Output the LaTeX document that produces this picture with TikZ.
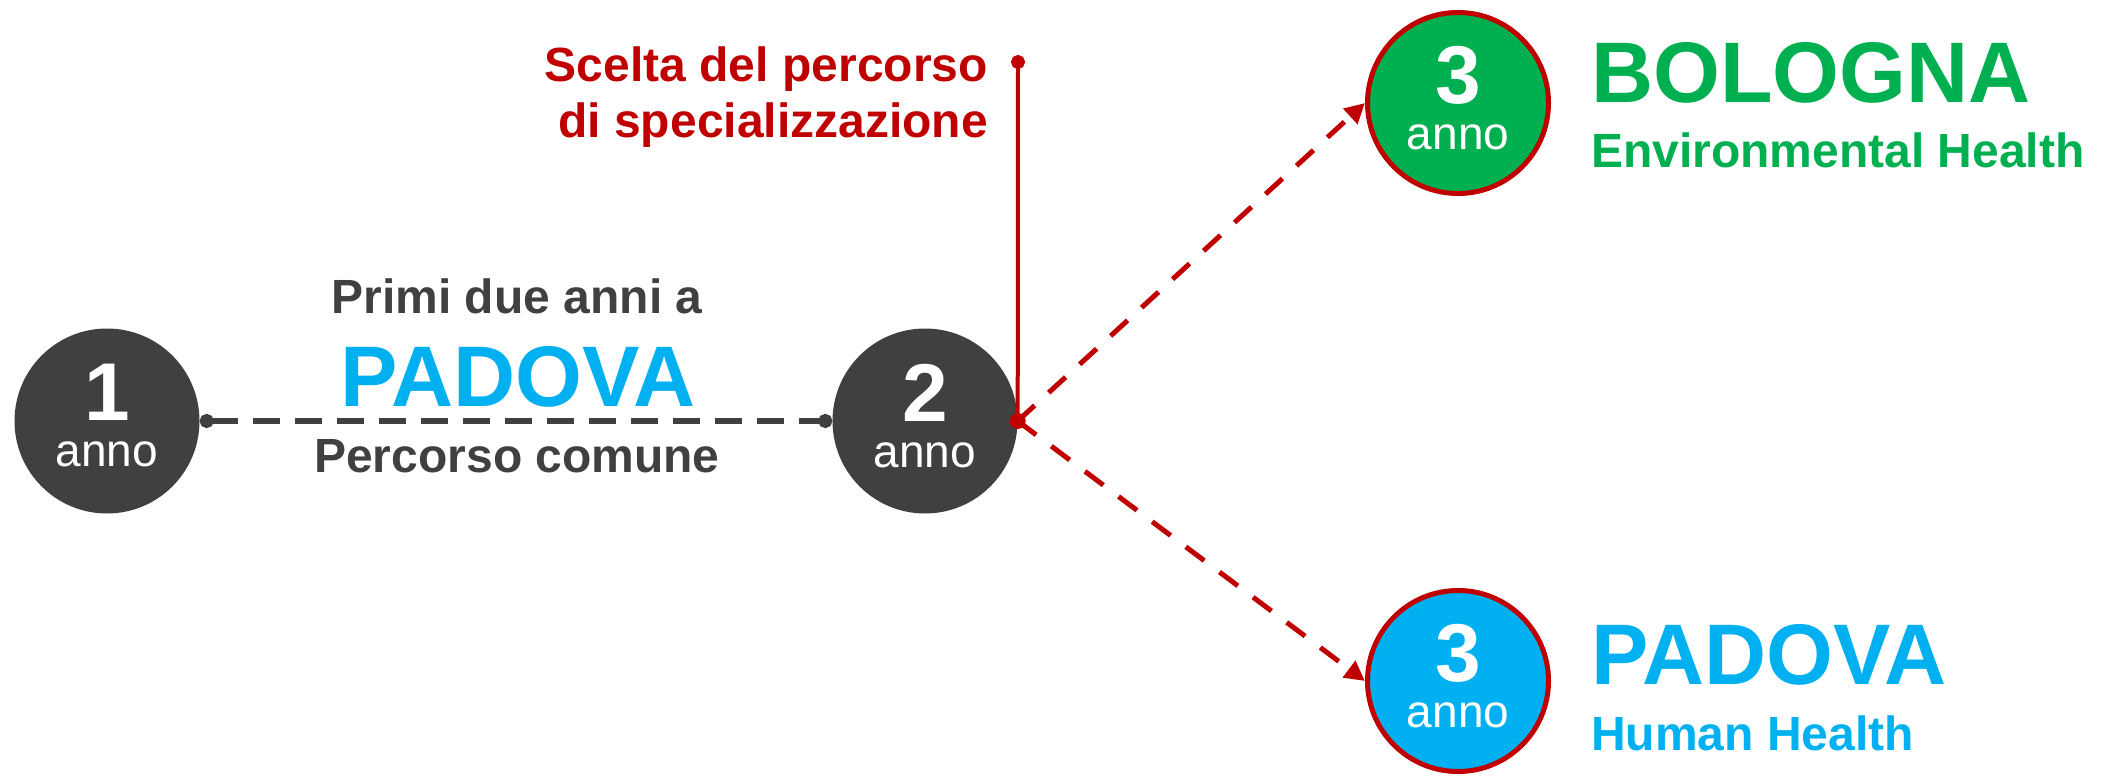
\documentclass[tikz,border=0pt]{standalone}
\usepackage{fontspec}
\setmainfont{Liberation Sans}
\usetikzlibrary{arrows.meta}
\definecolor{dgray}{HTML}{404040}
\definecolor{lblue}{HTML}{00B0F0}
\definecolor{lgreen}{HTML}{00B050}
\definecolor{dred}{HTML}{C00000}
\newcommand{\yrtext}[1]{{\bfseries\fontsize{82}{46}\selectfont #1}\\anno}
\tikzset{
  graycirc/.style={circle, fill=dgray, minimum size=185pt, inner sep=0pt},
  yearcirc/.style={circle, draw=dred, line width=5pt, minimum size=181pt, inner sep=0pt},
  circtxt/.style={font=\fontsize{46}{46}\selectfont, text=white, align=center, anchor=center, inner sep=0pt},
  bigtxt/.style={font=\bfseries\fontsize{86}{95}\selectfont, inner sep=0pt},
  midtxt/.style={font=\bfseries\fontsize{48}{56}\selectfont, inner sep=0pt},
  grayline/.style={draw=dgray, line width=6pt, dash pattern=on 27pt off 15pt},
  redarrow/.style={draw=dred, line width=5pt, dash pattern=on 23pt off 19pt, -{Triangle[length=20pt,width=20pt]}},
}
\begin{document}
\begin{tikzpicture}[x=1pt,y=-1pt]
\useasboundingbox (0,0) rectangle (2101,778);
% circles
\node[graycirc] (c1) at (107,421) {};
\node[graycirc] (c2) at (925,421) {};
\node[yearcirc, fill=lgreen] (c3t) at (1458,103) {};
\node[yearcirc, fill=lblue] (c3b) at (1458,681) {};
% labels in circles
\node[circtxt] (n1) at (107,416) {\yrtext{1}};
\node[circtxt] (n2) at (925,416) {\yrtext{2}};
\node[circtxt] (n3t) at (1458,98) {\yrtext{3}};
\node[circtxt] (n3b) at (1458,676) {\yrtext{3}};
% gray dashed connector
\draw[grayline, {Circle[length=14pt]}-{Circle[length=14pt]}] (c1.east) -- (c2.west);
% junction and red lines
\node[circle, fill=dred, minimum size=16pt, inner sep=0pt] (j) at (c2.east) {};
\coordinate (top) at (1018,55);
\draw[draw=dred, line width=4pt, {Circle[length=14pt]}-] (top) -- (j.center);
\draw[redarrow] (j.center) -- (c3t.west);
\draw[redarrow] (j.center) -- (c3b.west);
% texts
\node[midtxt, text=dgray, anchor=base] (t1) at (517,313) {Primi due anni a};
\node[bigtxt, text=lblue, anchor=base] (t2) at (518,406) {PADOVA};
\node[midtxt, text=dgray, anchor=base] (t3) at (517,472) {Percorso comune};
\node[midtxt, text=dred, anchor=base east] (s1) at (988,82) {Scelta del percorso};
\node[midtxt, text=dred, anchor=base east] (s2) at (988,138) {di specializzazione};
\node[bigtxt, text=lgreen, anchor=base west] (b1) at (1591,103) {BOLOGNA};
\node[midtxt, text=lgreen, anchor=base west] (b2) at (1591,168) {Environmental Health};
\node[bigtxt, text=lblue, anchor=base west] (p1) at (1591,684) {PADOVA};
\node[midtxt, text=lblue, anchor=base west] (p2) at (1591,750) {Human Health};
\end{tikzpicture}
\end{document}
